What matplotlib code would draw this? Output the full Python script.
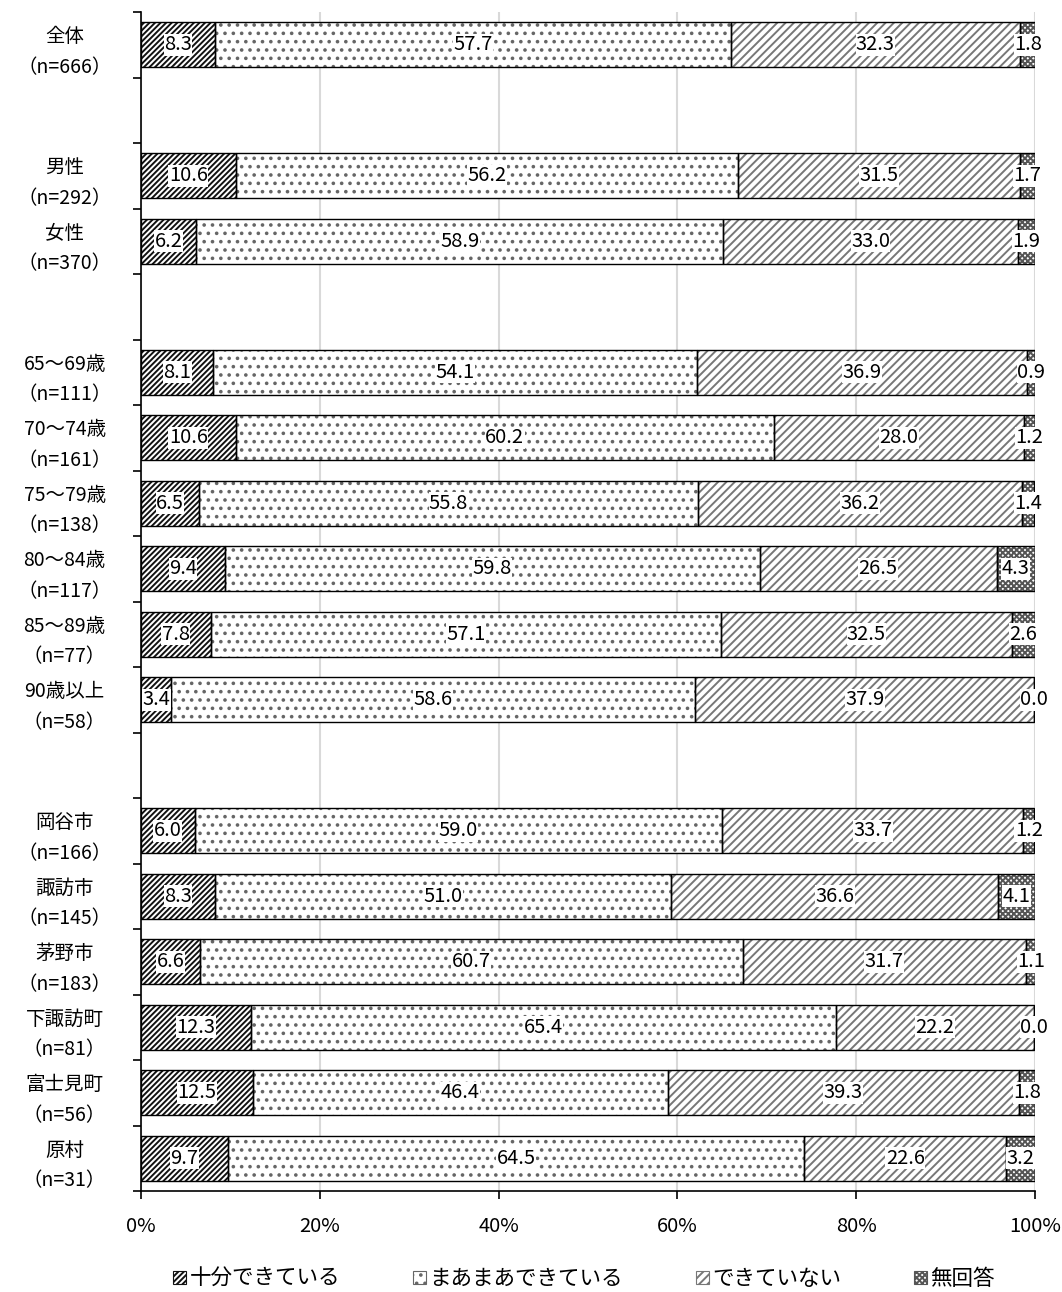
import numpy as np
import matplotlib
matplotlib.use('Agg')
import matplotlib.pyplot as plt
from matplotlib.patches import Patch

plt.rcParams['font.family'] = ['Noto Sans CJK JP', 'DejaVu Sans']
plt.rcParams['hatch.linewidth'] = 1.4

labels = ['全体\n（n=666）', '', '男性\n（n=292）', '女性\n（n=370）', '',
          '65～69歳\n（n=111）', '70～74歳\n（n=161）', '75～79歳\n（n=138）',
          '80～84歳\n（n=117）', '85～89歳\n（n=77）', '90歳以上\n（n=58）', '',
          '岡谷市\n（n=166）', '諏訪市\n（n=145）', '茅野市\n（n=183）',
          '下諏訪町\n（n=81）', '富士見町\n（n=56）', '原村\n（n=31）']
series = ['十分できている', 'まあまあできている', 'できていない', '無回答']
juubun = [8.3, None, 10.6, 6.2, None, 8.1, 10.6, 6.5, 9.4, 7.8, 3.4, None, 6.0, 8.3, 6.6, 12.3, 12.5, 9.7]
maamaa = [57.7, None, 56.2, 58.9, None, 54.1, 60.2, 55.8, 59.8, 57.1, 58.6, None, 59.0, 51.0, 60.7, 65.4, 46.4, 64.5]
dekinai = [32.3, None, 31.5, 33.0, None, 36.9, 28.0, 36.2, 26.5, 32.5, 37.9, None, 33.7, 36.6, 31.7, 22.2, 39.3, 22.6]
muka = [1.8, None, 1.7, 1.9, None, 0.9, 1.2, 1.4, 4.3, 2.6, 0.0, None, 1.2, 4.1, 1.1, 0.0, 1.8, 3.2]

hatches = ['//////', '..', '////', 'xxxxxx']
hcolors = ['#111111', '#666666', '#777777', '#555555']

fig = plt.figure(figsize=(10.62, 12.92), dpi=100)
ax = fig.add_axes([141 / 1062, 1 - 1191 / 1292, (1035 - 141) / 1062, (1191 - 12) / 1292])

n = len(labels)
ypos = np.arange(n)
h = 0.69
left = np.zeros(n)
data = [juubun, maamaa, dekinai, muka]
for k, vals in enumerate(data):
    for i in range(n):
        v = vals[i]
        if v is None:
            continue
        ax.barh(ypos[i], v, left=left[i], height=h, color='white',
                edgecolor=hcolors[k], hatch=hatches[k], linewidth=0, zorder=2)
        ax.barh(ypos[i], v, left=left[i], height=h, fill=False,
                edgecolor='black', linewidth=1.0, zorder=3)
        ax.text(left[i] + v / 2, ypos[i], f'{v:.1f}', ha='center', va='center',
                fontsize=14.5, zorder=4,
                bbox=dict(facecolor='white', edgecolor='none', pad=0.3))
        left[i] += v

ax.set_xlim(0, 100)
ax.set_ylim(n - 0.5, -0.5)
ax.set_xticks(np.arange(0, 101, 20))
ax.set_xticklabels([f'{t}%' for t in range(0, 101, 20)], fontsize=14.5)
ax.tick_params(axis='x', length=6, width=1.2, pad=12)
ax.grid(axis='x', color='#d9d9d9', linewidth=1.5, zorder=0)

ax.set_yticks(ypos)
ax.set_yticklabels(labels, fontsize=14, ha='center', linespacing=1.6)
ax.tick_params(axis='y', which='major', length=0, pad=55)
ax.set_yticks(np.arange(-0.5, n), minor=True)
ax.tick_params(axis='y', which='minor', length=6, width=1.2)

for s in ['top', 'right']:
    ax.spines[s].set_visible(False)
ax.spines['left'].set_linewidth(1.2)
ax.spines['bottom'].set_linewidth(1.2)

handles = [Patch(facecolor='white', edgecolor=hcolors[k], hatch=hatches[k], linewidth=0.8)
           for k in range(4)]
fig.legend(handles, series, loc='center', bbox_to_anchor=(0.55, 0.01), ncol=4,
           frameon=False, fontsize=15.5, handlelength=0.6, handleheight=0.6,
           handletextpad=0.15, columnspacing=3.4)

fig.savefig('out.png', dpi=100)
